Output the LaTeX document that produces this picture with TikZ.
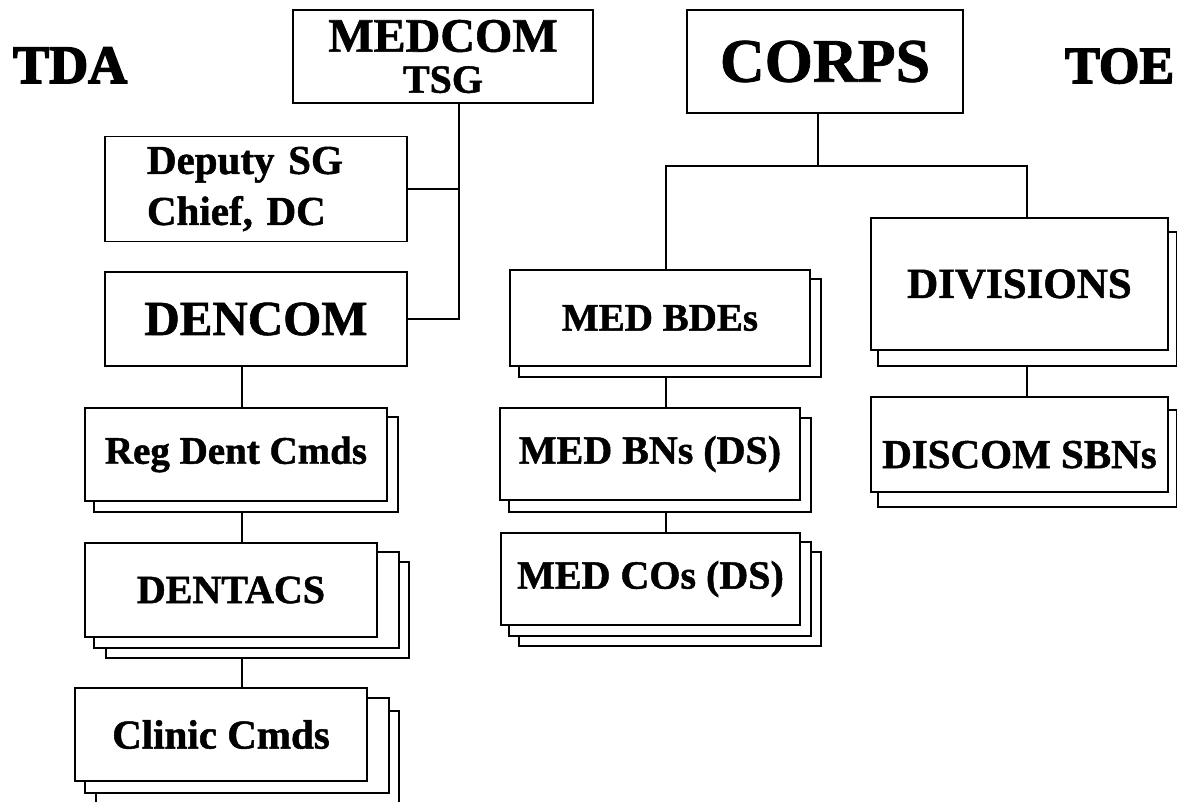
\documentclass[tikz,border=0pt]{standalone}
\usepackage{fontspec}
\setmainfont{Liberation Serif}[BoldFeatures={FakeBold=1.2}]
\newfontfamily\headfont{Liberation Serif}[BoldFeatures={FakeBold=3}]
\usetikzlibrary{calc,backgrounds}
\newcommand{\fsz}[1]{\fontsize{#1}{#1}\selectfont}

\begin{document}
\begin{tikzpicture}[x=1pt, y=-1pt]
    \tikzstyle{line}=[line width=1.8pt]
    \tikzstyle{unit}=[line, draw=black, fill=white, inner sep=0pt, font=\bfseries]
    \tikzstyle{title}=[anchor=base west, inner sep=0pt]
    \useasboundingbox (0,0) rectangle (1177,801);

    % Headings of the two sides
    \node[title, font=\headfont\bfseries\fsz{54}] (tda) at (13,83) {TDA};
    \node[title, font=\headfont\bfseries\fsz{52}] (toe) at (1065,83) {TOE};

    % TDA side
    \node[unit, minimum width=300pt, minimum height=93pt, align=center,
          font=\bfseries\fontsize{48}{41}\selectfont] (medcom) at (443,56.5)
        {MEDCOM\\\fontsize{40}{41}\selectfont TSG};
    \node[unit, minimum height=105pt, text width=218pt, inner xsep=42pt, align=left,
          font=\bfseries\fontsize{41}{51}\selectfont] (deputy) at (256,189)
        {Deputy SG\\Chief, DC};
    \node[unit, minimum width=302pt, minimum height=94pt, font=\bfseries\fsz{49}] (dencom) at (256,319) {DENCOM};
    \node[unit, minimum width=302pt, minimum height=93pt, font=\bfseries\fsz{39}] (regdent) at (236,454.5) {Reg Dent Cmds};
    \node[unit, minimum width=292pt, minimum height=94pt, font=\bfseries\fsz{40}] (dentacs) at (231,590) {DENTACS};
    \node[unit, minimum width=292pt, minimum height=93pt, font=\bfseries\fsz{41}] (clinic) at (221,734.5) {Clinic Cmds};

    % TOE side
    \node[unit, minimum width=276pt, minimum height=103pt, font=\bfseries\fsz{62}] (corps) at (825,61.5) {CORPS};
    \node[unit, minimum width=300pt, minimum height=96pt, font=\bfseries\fsz{39}] (bdes) at (660,318) {MED BDEs};
    \node[unit, minimum width=300pt, minimum height=92pt, font=\bfseries\fsz{40}] (bns) at (650,454) {MED BNs (DS)};
    \node[unit, minimum width=299pt, minimum height=92pt, font=\bfseries\fsz{40}] (cos) at (650.5,579) {MED COs (DS)};
    \node[unit, minimum width=297pt, minimum height=132pt, font=\bfseries\fsz{43}] (divisions) at (1019.5,284) {DIVISIONS};
    \node[unit, minimum width=297pt, minimum height=95pt, text height=47pt, text depth=0pt,
          font=\bfseries\fsz{41}] (discom) at (1019.5,444.5) {DISCOM SBNs};

    % Stacked copies behind the boxes (back copy first)
    \begin{scope}[on background layer]
    \foreach \nm/\lft/\rgt/\dwn in {dentacs/22/31/20, dentacs/10/21/10,
                                    clinic/22/31/24, clinic/11/21/11,
                                    regdent/10/10/10, bdes/10/10/10, bns/10/10/11,
                                    cos/19/20/20, cos/9/10/10,
                                    divisions/8/8/15, discom/8/8/14}
        \draw[line, fill=white] ($(\nm.south west)+(\lft,\dwn)$) rectangle ($(\nm.north east)+(\rgt,\dwn)$);
    \end{scope}

    % Connect the TDA side
    \coordinate (tsg drop) at ($(medcom.south)+(16,0)$);
    \draw[line] (tsg drop) |- (dencom.east);
    \draw[line] (deputy.east) -- (deputy.east -| tsg drop);
    \draw[line] ($(dencom.south)+(-14,0)$) -- ($(regdent.north)+(6,0)$);
    \draw[line] ($(regdent.south)+(6,11)$) -- ($(dentacs.north)+(11,0)$);
    \draw[line] ($(dentacs.south)+(11,20)$) -- ($(clinic.north)+(21,0)$);

    % Connect the TOE side
    \coordinate (fork) at ($(corps.south)+(-7,52)$);
    \draw[line] ($(corps.south)+(-7,0)$) -- (fork);
    \draw[line] ($(bdes.north)+(6,0)$) |- (fork) -| ($(divisions.north)+(7.5,0)$);
    \draw[line] ($(bdes.south)+(6,10)$) -- ($(bns.north)+(16,0)$);
    \draw[line] ($(bns.south)+(16,11)$) -- ($(cos.north)+(15.5,0)$);
    \draw[line] ($(divisions.south)+(7.5,15)$) -- ($(discom.north)+(7.5,0)$);

\end{tikzpicture}
\end{document}
